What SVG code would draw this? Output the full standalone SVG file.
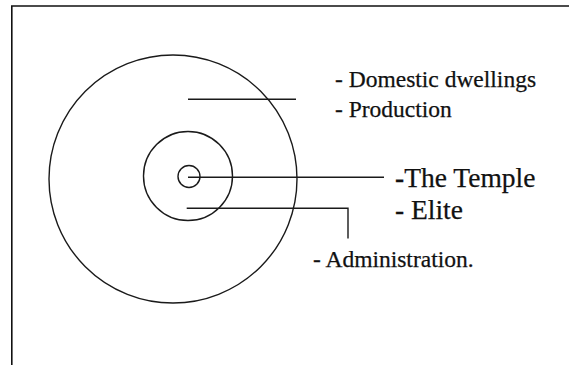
<svg xmlns="http://www.w3.org/2000/svg" width="569" height="365" viewBox="0 0 569 365">
  <style>
    .ring { fill: none; stroke: #1a1a1a; stroke-width: 1.4; }
    .lead { fill: none; stroke: #1a1a1a; stroke-width: 1.4; }
    .frame { fill: none; stroke: #111; stroke-width: 1.6; }
    .lbl { font-family: "Liberation Serif", "Times New Roman", serif; fill: #111; stroke: #111; stroke-width: 0.25; }
    .sm { font-size: 23.5px; }
    .lg { font-size: 27.5px; }
  </style>
  <rect width="569" height="365" fill="#fff"/>
  <!-- page frame: top and left edges -->
  <path class="frame" d="M11.8,365 V6 H569"/>

  <g id="outer-zone">
    <circle class="ring" cx="173" cy="179" r="124"/>
    <text class="lbl sm" x="335" y="87">- Domestic dwellings</text>
    <text class="lbl sm" x="335" y="116.5">- Production</text>
  </g>

  <g id="middle-zone">
    <circle class="ring" cx="188" cy="176" r="44.5"/>
    <text class="lbl lg" x="395" y="219.3">- Elite</text>
    <text class="lbl sm" x="313" y="266.5">- Administration.</text>
  </g>

  <g id="temple">
    <circle class="ring" cx="189" cy="176.5" r="11"/>
    <text class="lbl lg" x="395" y="187.3"><tspan font-weight="bold">-</tspan>The Temple</text>
  </g>

  <g id="connectors">
    <line class="lead" x1="188" y1="99.3" x2="296" y2="99.3"/>
    <line class="lead" x1="188" y1="177.3" x2="384" y2="177.3"/>
    <polyline class="lead" points="186.7,208.3 348,208.3 348,238.5"/>
  </g>
</svg>
